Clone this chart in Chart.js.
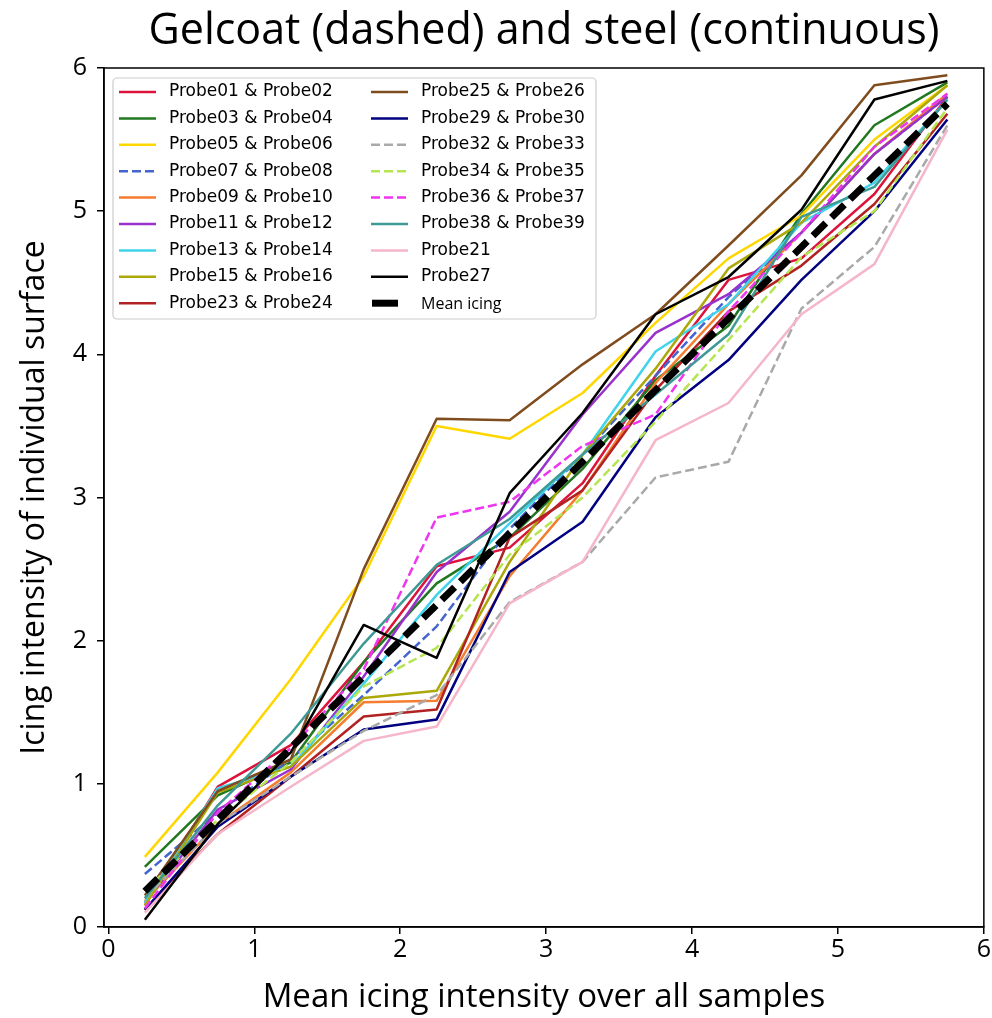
<!DOCTYPE html>
<html>
<head>
<meta charset="utf-8">
<script src="https://cdn.jsdelivr.net/npm/chart.js@4.4.1/dist/chart.umd.min.js"></script>
<style>
  html, body { margin: 0; padding: 0; background: #fff; }
  #wrap { width: 992px; height: 1018px; }
</style>
</head>
<body>
<div id="wrap"><canvas id="icing-chart"></canvas></div>
<script>
// x positions (mean icing intensity bins)
const meanX = [0.25, 0.75, 1.25, 1.75, 2.25, 2.75, 3.25, 3.75, 4.25, 4.75, 5.25, 5.75];
const xTicks = [0, 1, 2, 3, 4, 5, 6];
const yTicks = [0, 1, 2, 3, 4, 5, 6];

// icing intensity of each surface
const p0102 = [0.15, 0.98, 1.27, 1.85, 2.52, 2.65, 3.10, 3.85, 4.52, 4.67, 5.12, 5.80];
const p0304 = [0.42, 0.92, 1.15, 1.85, 2.40, 2.72, 3.20, 3.82, 4.20, 4.98, 5.60, 5.90];
const p0506 = [0.49, 1.08, 1.73, 2.45, 3.50, 3.41, 3.73, 4.22, 4.67, 4.97, 5.50, 5.88];
const p0708 = [0.37, 0.80, 1.17, 1.62, 2.10, 2.78, 3.30, 3.85, 4.40, 4.85, 5.40, 5.80];
const p0910 = [0.18, 0.72, 1.08, 1.57, 1.58, 2.45, 3.05, 3.80, 4.35, 4.85, 5.40, 5.82];
const p1112 = [0.17, 0.82, 1.10, 1.75, 2.48, 2.90, 3.58, 4.15, 4.42, 4.85, 5.40, 5.80];
const p1314 = [0.17, 0.97, 1.12, 1.70, 2.32, 2.82, 3.30, 4.02, 4.35, 4.92, 5.20, 5.78];
const p1516 = [0.15, 0.94, 1.12, 1.60, 1.65, 2.55, 3.30, 3.90, 4.60, 4.92, 5.45, 5.88];
const p2324 = [0.12, 0.65, 1.05, 1.47, 1.52, 2.72, 3.05, 3.75, 4.30, 4.62, 5.05, 5.68];
const p2526 = [0.22, 0.95, 1.17, 2.50, 3.55, 3.54, 3.93, 4.28, 4.76, 5.25, 5.88, 5.95];
const p2930 = [0.12, 0.70, 1.05, 1.38, 1.45, 2.48, 2.83, 3.56, 3.96, 4.52, 5.00, 5.64];
const p3233 = [0.20, 0.72, 1.05, 1.37, 1.62, 2.27, 2.55, 3.14, 3.25, 4.32, 4.75, 5.60];
const p3435 = [0.25, 0.75, 1.15, 1.68, 1.95, 2.60, 3.00, 3.53, 4.10, 4.68, 5.00, 5.72];
const p3637 = [0.13, 0.80, 1.25, 1.80, 2.86, 2.97, 3.36, 3.58, 4.30, 4.85, 5.45, 5.82];
const p3839 = [0.20, 0.85, 1.35, 1.98, 2.53, 2.85, 3.30, 3.72, 4.14, 4.96, 5.17, 5.78];
const p21   = [0.10, 0.65, 0.98, 1.30, 1.40, 2.26, 2.55, 3.40, 3.66, 4.28, 4.63, 5.57];
const p27   = [0.05, 0.72, 1.22, 2.11, 1.88, 3.03, 3.59, 4.28, 4.54, 5.01, 5.78, 5.91];
const meanIcing = [0.25, 0.75, 1.25, 1.75, 2.25, 2.75, 3.25, 3.75, 4.25, 4.75, 5.25, 5.75];

const DASH = [9, 4];
const series = [
  { label: 'Probe01 & Probe02', data: p0102, color: '#dc143c' },
  { label: 'Probe03 & Probe04', data: p0304, color: '#217821' },
  { label: 'Probe05 & Probe06', data: p0506, color: '#ffd700' },
  { label: 'Probe07 & Probe08', data: p0708, color: '#4464d0', dash: DASH },
  { label: 'Probe09 & Probe10', data: p0910, color: '#f47d30' },
  { label: 'Probe11 & Probe12', data: p1112, color: '#9932cc' },
  { label: 'Probe13 & Probe14', data: p1314, color: '#3fd3ec' },
  { label: 'Probe15 & Probe16', data: p1516, color: '#aca80a' },
  { label: 'Probe23 & Probe24', data: p2324, color: '#b22222' },
  { label: 'Probe25 & Probe26', data: p2526, color: '#7f4c1e' },
  { label: 'Probe29 & Probe30', data: p2930, color: '#000080' },
  { label: 'Probe32 & Probe33', data: p3233, color: '#a9a9a9', dash: DASH },
  { label: 'Probe34 & Probe35', data: p3435, color: '#b5e550', dash: DASH },
  { label: 'Probe36 & Probe37', data: p3637, color: '#f035f0', dash: DASH },
  { label: 'Probe38 & Probe39', data: p3839, color: '#3e9a94' },
  { label: 'Probe21', data: p21, color: '#f4b6c8' },
  { label: 'Probe27', data: p27, color: '#000000' },
  { label: 'Mean icing', data: meanIcing, color: '#000000', dash: [18, 8], width: 7, small: true }
];

const datasets = series.map((s, i) => ({
  label: s.label,
  data: meanX.map((x, j) => ({ x: x, y: s.data[j] })),
  borderColor: s.color,
  backgroundColor: s.color,
  borderWidth: s.width || 2.5,
  borderDash: s.dash || [],
  borderJoinStyle: 'round',
  borderCapStyle: 'butt',
  pointRadius: 0,
  tension: 0,
  fill: false,
  order: series.length - i,   // later series on top, like matplotlib
  smallLabel: !!s.small
}));

// matplotlib-like box round the axes
const frame = {
  id: 'frame',
  afterDatasetsDraw(chart) {
    const { ctx, chartArea: a } = chart;
    ctx.save();
    ctx.strokeStyle = '#000';
    ctx.lineWidth = 1.5;
    ctx.strokeRect(a.left, a.top, a.right - a.left, a.bottom - a.top);
    ctx.restore();
  }
};

// two-column legend box in the upper left corner
const boxLegend = {
  id: 'boxLegend',
  afterDraw(chart) {
    const { ctx, chartArea: a } = chart;
    const ds = chart.data.datasets;
    const rows = Math.ceil(ds.length / 2);
    const x0 = a.left + 9, y0 = a.top + 10, w = 483, h = 241;
    const rowH = 26.4, colX = [x0 + 6, x0 + 258];
    ctx.save();
    ctx.fillStyle = 'rgba(255,255,255,0.85)';
    ctx.strokeStyle = '#cccccc';
    ctx.lineWidth = 1.2;
    ctx.beginPath();
    ctx.roundRect(x0, y0, w, h, 4);
    ctx.fill();
    ctx.stroke();
    ds.forEach((d, i) => {
      const col = Math.floor(i / rows), row = i % rows;
      const lx = colX[col], ly = y0 + 14 + row * rowH;
      ctx.beginPath();
      ctx.strokeStyle = d.borderColor;
      ctx.lineWidth = d.borderWidth;
      // the thick mean line shows as one solid block in the key
      ctx.setLineDash(d.smallLabel ? [] : d.borderDash);
      ctx.lineCap = 'butt';
      const len = d.smallLabel ? 27 : 37;
      ctx.moveTo(lx + (d.smallLabel ? 1 : 0), ly);
      ctx.lineTo(lx + len, ly);
      ctx.stroke();
      ctx.setLineDash([]);
      ctx.fillStyle = '#000';
      ctx.textBaseline = 'middle';
      ctx.font = d.smallLabel ? '16px "Open Sans"' : '17px "DejaVu Sans"';
      ctx.fillText(d.label, lx + 50, ly + (d.smallLabel ? 1 : 0));
    });
    ctx.restore();
  }
};

new Chart(document.getElementById('icing-chart').getContext('2d'), {
  type: 'line',
  data: { datasets: datasets },
  plugins: [frame, boxLegend],
  options: {
    responsive: true, maintainAspectRatio: false, animation: false,
    layout: { padding: { right: 6, left: 0, top: 0, bottom: 0 } },
    plugins: {
      legend: { display: false },
      tooltip: { enabled: false },
      title: {
        display: true,
        fullSize: false,
        text: 'Gelcoat (dashed) and steel (continuous)',
        color: '#000',
        font: { family: 'Open Sans', size: 43, weight: 'normal', lineHeight: 1.2 },
        padding: { top: 6, bottom: 10.4 }
      }
    },
    scales: {
      x: {
        type: 'linear', min: -0.03, max: 6,
        afterBuildTicks: s => { s.ticks = xTicks.map(v => ({ value: v })); },
        afterFit: s => { s.height = 91; },
        grid: { drawOnChartArea: false, drawTicks: true, tickLength: 7, color: '#000', lineWidth: 1.5 },
        border: { display: true, color: '#000', width: 1.5 },
        ticks: { color: '#000', font: { family: 'Open Sans', size: 25 }, padding: 1, maxRotation: 0 },
        title: { display: true, text: 'Mean icing intensity over all samples', color: '#000',
                 font: { family: 'Open Sans', size: 33, lineHeight: 1.2 }, padding: { top: 0, bottom: 1 } }
      },
      y: {
        type: 'linear', min: 0, max: 6,
        afterBuildTicks: s => { s.ticks = yTicks.map(v => ({ value: v })); },
        afterFit: s => { s.width = 104; },
        grid: { drawOnChartArea: false, drawTicks: true, tickLength: 7, color: '#000', lineWidth: 1.5 },
        border: { display: true, color: '#000', width: 1.5 },
        ticks: { color: '#000', font: { family: 'Open Sans', size: 25 }, padding: 10 },
        title: { display: true, text: 'Icing intensity of individual surface', color: '#000',
                 font: { family: 'Open Sans', size: 32, lineHeight: 1.2 }, padding: { top: 16, bottom: 0 } }
      }
    }
  }
});
</script>
</body>
</html>
